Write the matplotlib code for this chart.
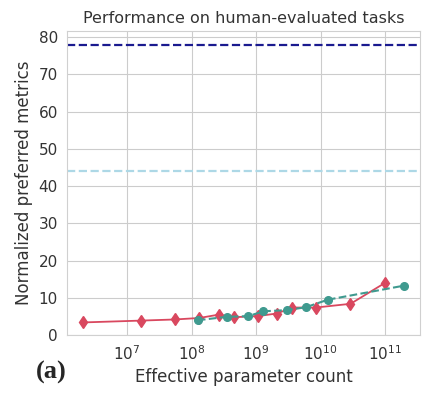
import matplotlib
matplotlib.use("Agg")
import matplotlib.pyplot as plt
import seaborn as sns

# données
params_a = [2.05e6, 1.67e7, 5.55e7, 1.32e8, 2.64e8, 4.5e8, 1.06e9, 2.09e9, 3.66e9, 8.4e9, 2.9e10, 9.9e10]
scores_a = [3.4, 3.9, 4.2, 4.6, 5.5, 4.8, 5.1, 5.8, 7.4, 7.4, 8.4, 14.0]

params_b = [1.25e8, 3.5e8, 7.6e8, 1.3e9, 3.0e9, 5.95e9, 1.29e10, 1.99e11]
scores_b = [4.0, 4.9, 5.1, 6.4, 6.7, 7.5, 9.5, 13.3]

ref_high = 77.8
ref_low = 44.0

sns.set_style("whitegrid")
plt.rcParams['font.family'] = ['DejaVu Sans']

fig = plt.figure(figsize=(4.38, 3.98), dpi=100)
ax = fig.add_axes([0.153, 0.158, 0.806, 0.764])

ax.axhline(ref_high, color="#1a1a8f", ls="--", lw=1.6)
ax.axhline(ref_low, color="#add8e6", ls="--", lw=1.6)
ax.plot(params_a, scores_a, color="#d9485f", marker="d", ms=6, lw=1.3)
ax.plot(params_b, scores_b, color="#3f9a8f", marker="o", ms=5.5, lw=1.5, ls="--")

ax.set_xscale("log")
ax.set_xlim(10**6.07, 10**11.54)
ax.set_ylim(0, 81.6)
ax.set_yticks(range(0, 81, 10))
ax.tick_params(labelsize=11, colors="#333333", pad=3)
ax.set_title("Performance on human-evaluated tasks", fontsize=11.5, color="#333333")
ax.set_xlabel("Effective parameter count", fontsize=12, color="#333333")
ax.set_ylabel("Normalized preferred metrics", fontsize=12, color="#333333")
for s in ax.spines.values():
    s.set_color("#d0d0d0")

fig.text(0.118, 0.05, "(a)", fontsize=19, fontweight="bold", family="Liberation Serif", ha="center")

fig.savefig("out.png", dpi=100)
